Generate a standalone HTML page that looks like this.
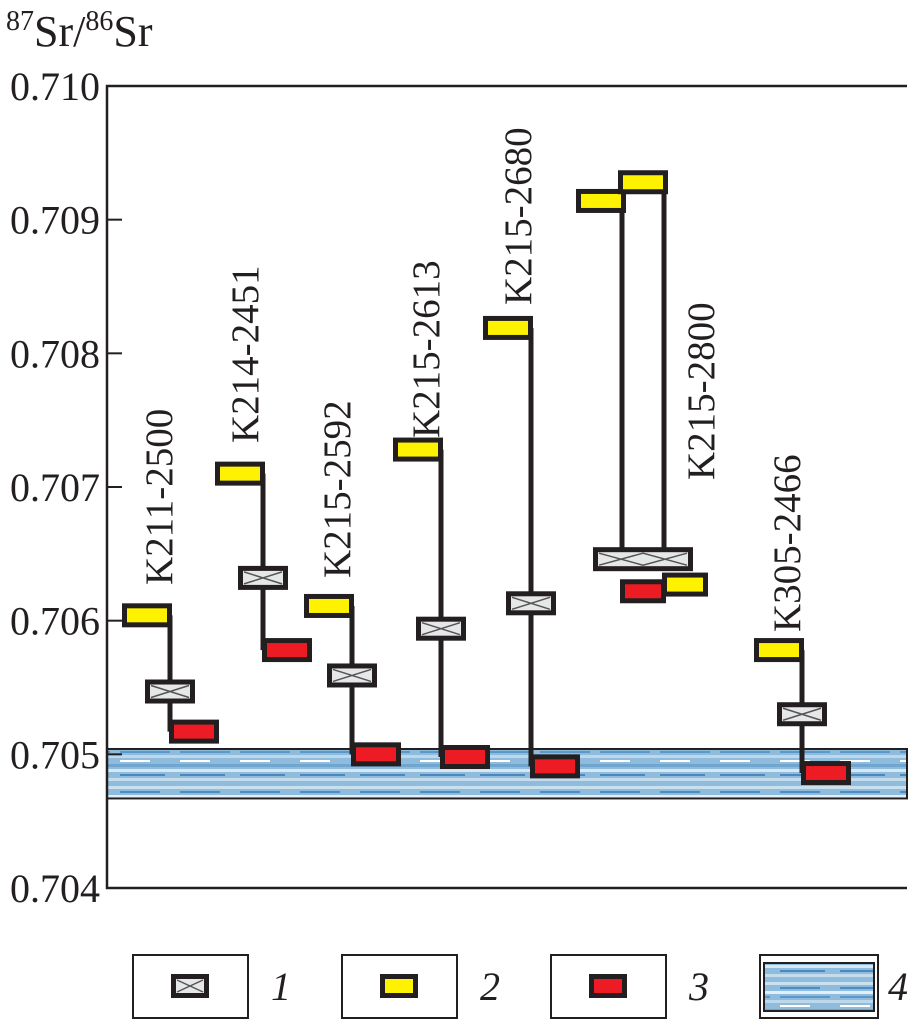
<!DOCTYPE html>
<html><head><meta charset="utf-8"><style>
body{margin:0;background:#fff}
svg{display:block}
text{font-family:"Liberation Serif",serif;fill:#231f20}
</style></head><body>
<svg id="c" width="914" height="1024" viewBox="0 0 914 1024" xmlns="http://www.w3.org/2000/svg">
<defs>
<pattern id="band" width="60" height="49" patternUnits="userSpaceOnUse">
<rect width="60" height="49" fill="#8fbcdc"/>
<rect y="2" width="60" height="3" fill="#c9e0ee"/><rect y="7" width="40" height="2" fill="#4d8cc2"/>
<rect y="11" width="60" height="3" fill="#e3eff6"/><rect y="16" width="50" height="2" fill="#5b97c8"/>
<rect y="20" width="60" height="3" fill="#bcd8ea"/><rect y="25" width="30" height="2" fill="#ffffff"/>
<rect y="29" width="60" height="3" fill="#6fa5cf"/><rect y="34" width="60" height="3" fill="#d8e8f2"/>
<rect y="39" width="45" height="2" fill="#4a88bf"/><rect y="43" width="60" height="3" fill="#c4dcec"/>
</pattern>
</defs>
<text x="6" y="46" font-size="44"><tspan font-size="28" dy="-16">87</tspan><tspan dy="16">Sr/</tspan><tspan font-size="28" dy="-16">86</tspan><tspan dy="16">Sr</tspan></text>
<g id="axes"></g>
<g id="marks"></g>
<g id="legend"></g>
</svg>
<script>
const yTicks=[0.704,0.705,0.706,0.707,0.708,0.709,0.710];
const tickLabels=["0.704","0.705","0.706","0.707","0.708","0.709","0.710"];
const samples=["K211-2500","K214-2451","K215-2592","K215-2613","K215-2680","K215-2800","K305-2466"];
const yellowVals=[0.70604,0.70710,0.70611,0.70728,0.70819,0.70914,0.70578];
const grayVals=[0.70547,0.70632,0.70559,0.70594,0.70613,0.70646,0.70530];
const redVals=[0.70517,0.70578,0.70500,0.70498,0.70491,0.70622,0.70486];
const extraYellowVals=[0.70928,0.70627];
const bandRange=[0.70467,0.70504];
const NS="http://www.w3.org/2000/svg";
const L=107,R=907,T=86,B=888,vmin=0.704,vmax=0.710;
function y(v){return B-(v-vmin)/(vmax-vmin)*(B-T);}
const lineX=[170,263,352,441,531,622,802];
const labelPos=[[158,585],[244,443],[336,578],[425,438],[517,305],[700,480],[786,632]];
function el(t,a,p){const e=document.createElementNS(NS,t);for(const k in a)e.setAttribute(k,a[k]);(p||document.getElementById('marks')).appendChild(e);return e;}
const ax=document.getElementById('axes');
let band=el('rect',{x:L,y:y(bandRange[1]),width:R-L,height:y(bandRange[0])-y(bandRange[1]),fill:'url(#band)',stroke:'#231f20','stroke-width':2},ax);


let frame=el('path',{d:`M${R} ${T}H${L}V${B}H${R}`,fill:'none',stroke:'#231f20','stroke-width':2.5},ax);


yTicks.forEach((v,i)=>{
 let tk=el('line',{x1:L,x2:L+15,y1:y(v),y2:y(v),stroke:'#231f20','stroke-width':2},ax);
 
 
 let t=el('text',{x:100,y:y(v)+14,'font-size':40,'text-anchor':'end'},ax);
 t.textContent=tickLabels[i];
 
 
});
function box(cx,v,fill,kind,w){
 w=w||50;const h=24,yy=y(v);
 let r=el('rect',{x:cx-w/2+2.5,y:yy-h/2+2.5,width:w-5,height:h-5,fill:fill,stroke:'#231f20','stroke-width':5});
 
 
 if(kind==='whole-rock'){
  let x1=cx-w/2+6,x2=cx+w/2-6,y1=yy-h/2+6,y2=yy+h/2-6;
  if(w>60){let m=cx;el('path',{d:`M${x1} ${y1}L${m} ${y2}L${x2} ${y1}M${x1} ${y2}L${m} ${y1}L${x2} ${y2}`,stroke:'#555',fill:'none','stroke-width':1.5});}
  else el('path',{d:`M${x1} ${y1}L${x2} ${y2}M${x1} ${y2}L${x2} ${y1}`,stroke:'#555',fill:'none','stroke-width':1.5});
 }
}
samples.forEach((s,i)=>{
 const lx=lineX[i];
 if(i===5){
  const lx2=664;
  el('line',{x1:lx,x2:lx,y1:y(yellowVals[i]),y2:y(grayVals[i]),stroke:'#231f20','stroke-width':5});
  el('line',{x1:lx2,x2:lx2,y1:y(extraYellowVals[0]),y2:y(grayVals[i]),stroke:'#231f20','stroke-width':5});
  box(lx-21,yellowVals[i],'#fff200','carbonate');
  box(lx2-21,extraYellowVals[0],'#fff200','carbonate');
  box(643,grayVals[i],'#e6e7e8','whole-rock',100);
  box(lx+21,redVals[i],'#ed1c24','sulfate',46);
  box(lx2+21,extraYellowVals[1],'#fff200','carbonate',46);
 } else {
  let ln=el('line',{x1:lx,x2:lx,y1:y(yellowVals[i]),y2:y(redVals[i]),stroke:'#231f20','stroke-width':5});
  
  
  box(lx-23,yellowVals[i],'#fff200','carbonate');
  box(lx,grayVals[i],'#e6e7e8','whole-rock');
  box(lx+24,redVals[i],'#ed1c24','sulfate');
 }
 const [tx,ty]=labelPos[i];
 let t=el('text',{x:0,y:0,'font-size':39,transform:`translate(${tx+14},${ty}) rotate(-90)`});
 t.textContent=s;
 
 
});
const lg=document.getElementById('legend');
const legX=[133,342,551,760];
const legNames=['whole-rock','carbonate','sulfate','seawater'];
const legFill=['#e6e7e8','#fff200','#ed1c24'];
legX.forEach((x,i)=>{
 let r=el('rect',{x:x,y:955,width:i===3?118:115,height:63,fill:'#fff',stroke:'#231f20','stroke-width':2},lg);
 
 
 if(i<3){
  const cx=x+57,cy=986;
  el('rect',{x:cx-19+2.5,y:cy-12+2.5,width:33,height:19,fill:legFill[i],stroke:'#231f20','stroke-width':5},lg);
  if(i===0)el('path',{d:`M${cx-13} ${cy-6}L${cx+13} ${cy+6}M${cx-13} ${cy+6}L${cx+13} ${cy-6}`,stroke:'#555','stroke-width':1.5},lg);
 } else {
  el('rect',{x:x+4,y:963,width:110,height:48,fill:'url(#band)',stroke:'#231f20','stroke-width':2},lg);
 }
 let t=el('text',{x:i===3?x+128:x+138,y:1000,'font-size':40,'font-style':'italic'},lg);
 t.textContent=String(i+1);
 
 
});
</script>
</body></html>
